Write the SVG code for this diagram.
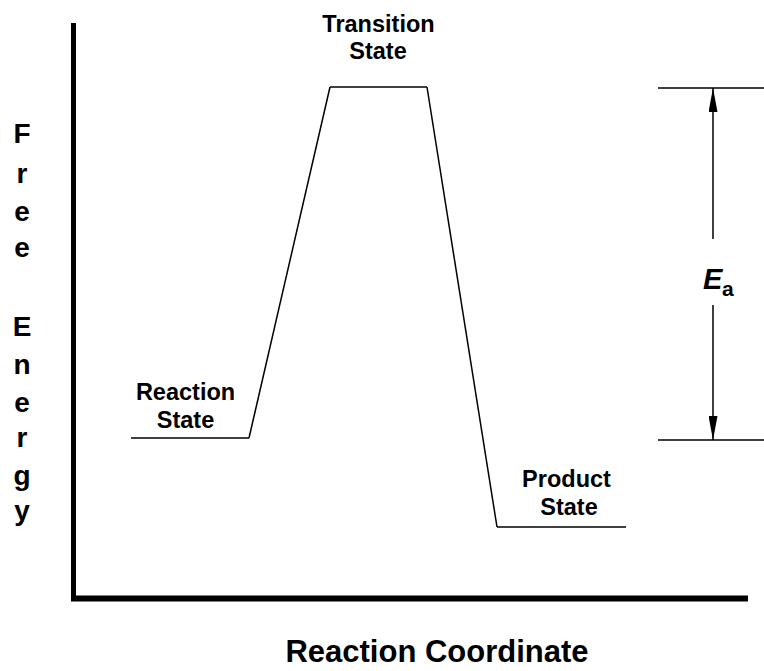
<svg xmlns="http://www.w3.org/2000/svg" width="764" height="671" viewBox="0 0 764 671">
  <defs>
    <style>
      .lbl { font-family: "Liberation Sans", Arial, sans-serif; font-weight: bold; fill: #000; text-anchor: middle; }
      .state { font-size: 23.5px; }
      .axisv { font-size: 28px; }
      .axish { font-size: 31px; }
      .thin { stroke: #000; stroke-width: 1.5; fill: none; }
      .axis { stroke: #000; fill: none; }
    </style>
    <marker id="arrow" viewBox="0 0 24 9" refX="24" refY="4.5" markerUnits="userSpaceOnUse" markerWidth="24" markerHeight="9" orient="auto">
      <path d="M0,0 L24,4.5 L0,9 Z" fill="#000"/>
    </marker>
  </defs>
  <rect width="764" height="671" fill="#fff"/>

  <g id="axes">
    <line class="axis" x1="73.5" y1="23" x2="73.5" y2="601" stroke-width="5"/>
    <line class="axis" x1="71" y1="598.5" x2="748" y2="598.5" stroke-width="6"/>
  </g>

  <g id="y-axis-label">
    <text class="lbl axisv" x="22" y="143">F</text>
    <text class="lbl axisv" x="22" y="183">r</text>
    <text class="lbl axisv" x="22" y="221">e</text>
    <text class="lbl axisv" x="22" y="257">e</text>
    <text class="lbl axisv" x="22" y="336">E</text>
    <text class="lbl axisv" x="22" y="374">n</text>
    <text class="lbl axisv" x="22" y="412">e</text>
    <text class="lbl axisv" x="22" y="447">r</text>
    <text class="lbl axisv" x="22" y="485">g</text>
    <text class="lbl axisv" x="22" y="520">y</text>
  </g>

  <g id="x-axis-label">
    <text class="lbl axish" x="437" y="662">Reaction Coordinate</text>
  </g>

  <g id="reaction-state">
    <line class="thin" x1="131" y1="438" x2="249" y2="438"/>
    <text class="lbl state" x="185.5" y="400">Reaction</text>
    <text class="lbl state" x="185.5" y="428">State</text>
  </g>

  <g id="transition-state">
    <line class="thin" x1="330" y1="87" x2="427" y2="87"/>
    <text class="lbl state" x="378.5" y="32">Transition</text>
    <text class="lbl state" x="378" y="59">State</text>
  </g>

  <g id="product-state">
    <line class="thin" x1="497" y1="527" x2="626" y2="527"/>
    <text class="lbl state" x="566.5" y="487">Product</text>
    <text class="lbl state" x="569" y="515">State</text>
  </g>

  <g id="connectors">
    <line class="thin" x1="249" y1="438" x2="330" y2="87"/>
    <line class="thin" x1="427" y1="87" x2="497" y2="527"/>
    <line class="thin" x1="658" y1="88" x2="764" y2="88"/>
    <line class="thin" x1="658" y1="440" x2="764" y2="440"/>
    <line class="thin" x1="713" y1="239" x2="713" y2="88" marker-end="url(#arrow)"/>
    <line class="thin" x1="713" y1="305" x2="713" y2="440" marker-end="url(#arrow)"/>
  </g>

  <g id="ea-label">
    <text x="703" y="289" font-family="Liberation Sans, Arial, sans-serif" font-weight="bold" font-style="italic" font-size="29">E</text>
    <text x="722" y="296" font-family="Liberation Sans, Arial, sans-serif" font-weight="bold" font-size="21">a</text>
  </g>
</svg>
